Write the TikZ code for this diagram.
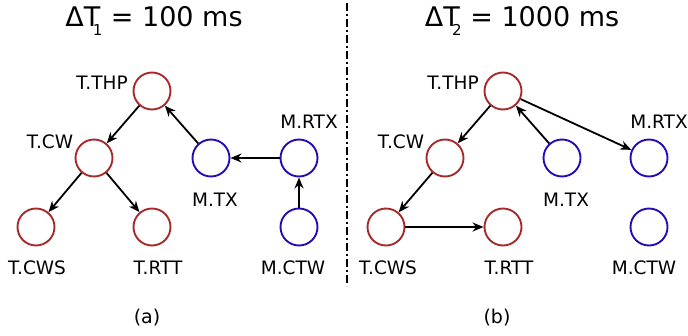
\documentclass[tikz,border=0pt]{standalone}
\usepackage{fontspec}
\setmainfont{DejaVu Sans}
\usetikzlibrary{arrows.meta}
\definecolor{tred}{HTML}{A52A2A}
\definecolor{mblue}{HTML}{2A0AB4}
% subscript tucked under the preceding capital
\newcommand{\dsub}[1]{\kern-0.28em\raisebox{-0.3em}{\fontsize{15}{15}\selectfont #1}\relax}
\begin{document}
\begin{tikzpicture}[x=1pt,y=-1pt,
  tnode/.style={circle,draw=tred,line width=1.9pt,minimum size=37pt,inner sep=0pt},
  mnode/.style={circle,draw=mblue,line width=1.9pt,minimum size=37pt,inner sep=0pt},
  lbl/.style={font=\fontsize{18.5}{20}\selectfont,inner sep=0pt},
  captext/.style={font=\fontsize{19}{21}\selectfont,inner sep=0pt},
  conn/.style={-{Stealth[length=11pt,width=9pt]},line width=1.8pt},
  ttl/.style={font=\fontsize{27}{30}\selectfont,inner sep=0pt}]
\useasboundingbox (0,0) rectangle (688,335);

% titles
\node[ttl] (t1) at (154,21) {ΔT\dsub{1}\ = 100 ms};
\node[ttl] (t2) at (522,21) {ΔT\dsub{2}\ = 1000 ms};

% separator
\draw[line width=1.5pt,dash pattern=on 8pt off 3pt on 2pt off 3pt] (347,3) -- (347,286);

% panel (a)
\node[tnode] (aTHP) at (152,91) {};
\node[tnode] (aCW) at (94,158) {};
\node[tnode] (aCWS) at (36,227) {};
\node[tnode] (aRTT) at (152,227) {};
\node[mnode] (aTX) at (211,158) {};
\node[mnode] (aRTX) at (299,158) {};
\node[mnode] (aCTW) at (299,227) {};

\node[lbl] (laTHP) at (102,83) {T.THP};
\node[lbl] (laCW) at (50,142) {T.CW};
\node[lbl] (laCWS) at (37,268) {T.CWS};
\node[lbl] (laRTT) at (158,268) {T.RTT};
\node[lbl] (laTX) at (215,200) {M.TX};
\node[lbl] (laRTX) at (309,122) {M.RTX};
\node[lbl] (laCTW) at (293,268) {M.CTW};

\draw[conn] (aTHP) -- (aCW);
\draw[conn] (aCW) -- (aCWS);
\draw[conn] (aCW) -- (aRTT);
\draw[conn] (aTX) -- (aTHP);
\draw[conn] (aRTX) -- (aTX);
\draw[conn] (aCTW) -- (aRTX);

% panel (b)
\node[tnode] (bTHP) at (503,91) {};
\node[tnode] (bCW) at (445,158) {};
\node[tnode] (bCWS) at (386,227) {};
\node[tnode] (bRTT) at (503,227) {};
\node[mnode] (bTX) at (562,158) {};
\node[mnode] (bRTX) at (649,158) {};
\node[mnode] (bCTW) at (649,227) {};

\node[lbl] (lbTHP) at (453,83) {T.THP};
\node[lbl] (lbCW) at (401,142) {T.CW};
\node[lbl] (lbCWS) at (388,268) {T.CWS};
\node[lbl] (lbRTT) at (509,268) {T.RTT};
\node[lbl] (lbTX) at (566,200) {M.TX};
\node[lbl] (lbRTX) at (659,122) {M.RTX};
\node[lbl] (lbCTW) at (644,268) {M.CTW};

\draw[conn] (bTHP) -- (bCW);
\draw[conn] (bCW) -- (bCWS);
\draw[conn] (bCWS) -- (bRTT);
\draw[conn] (bTX) -- (bTHP);
\draw[conn] (bTHP) -- (bRTX);

% captions
\node[captext] (capa) at (147,318) {(a)};
\node[captext] (capb) at (497,318) {(b)};
\end{tikzpicture}
\end{document}
